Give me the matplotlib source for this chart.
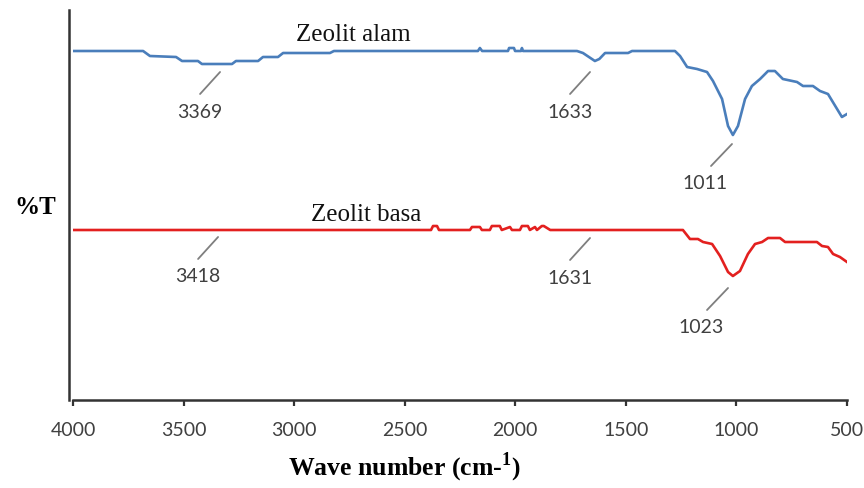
import numpy as np
import matplotlib
matplotlib.use("Agg")
import matplotlib.pyplot as plt

# FTIR spectra (wave number cm-1, relative %T)
wn_alam = [4000, 3683, 3652, 3534, 3507, 3435, 3417, 3281, 3263, 3163, 3141, 3073,
           3050, 2838, 2820, 2169, 2160, 2150, 2033, 2028, 2006, 2001, 1974, 1970,
           1965, 1721, 1694, 1640, 1620, 1594, 1490, 1472, 1278, 1255, 1223, 1178,
           1133, 1106, 1065, 1038, 1016, 993, 961, 930, 893, 857, 826, 790, 726,
           699, 654, 622, 586, 523, 500]
t_alam = [349, 349, 344, 343, 339, 339, 336, 336, 339, 339, 343, 343,
          347, 347, 349, 349, 352, 349, 349, 352, 352, 349, 349, 352,
          349, 349, 347, 339, 341, 347, 347, 349, 349, 344, 333, 331,
          328, 319, 301, 274, 265, 274, 301, 314, 321, 329, 329, 321, 318,
          314, 314, 309, 306, 283, 286]

wn_basa = [4000, 2381, 2372, 2354, 2345, 2205, 2196, 2160, 2151, 2115, 2106, 2070,
           2061, 2024, 2015, 1979, 1970, 1943, 1934, 1911, 1902, 1880, 1871, 1842,
           1242, 1210, 1174, 1151, 1110, 1074, 1038, 1016, 984, 948, 916, 884,
           857, 803, 780, 636, 613, 586, 563, 532, 500]
t_basa = [170, 170, 174, 174, 170, 170, 173, 173, 170, 170, 174, 174,
          170, 173, 170, 170, 174, 174, 170, 173, 170, 174, 174, 170,
          170, 161, 161, 158, 156, 144, 128, 124, 129, 146, 156, 158,
          162, 162, 158, 158, 154, 153, 146, 143, 138]

series_names = ["Zeolit alam", "Zeolit basa"]

# peak labels: (text, wave number at top of leader, %T at top of leader)
peaks_alam = [("3369", 3335, 328), ("1633", 1662, 328), ("1011", 1020, 256)]
peaks_basa = [("3418", 3344, 163), ("1631", 1662, 162), ("1023", 1038, 112)]

xticks = [4000, 3500, 3000, 2500, 2000, 1500, 1000, 500]

plt.rcParams['mathtext.fontset'] = 'custom'
plt.rcParams['mathtext.rm'] = 'Liberation Serif:bold'

fig = plt.figure(figsize=(8.64, 4.89), dpi=100)
ax = fig.add_axes([73 / 864, (489 - 401) / 489, 774 / 864, 390 / 489])

ax.plot(wn_alam, t_alam, color='#4a7ebb', linewidth=1.9, solid_joinstyle='round')
ax.plot(wn_basa, t_basa, color='#e3201f', linewidth=1.9, solid_joinstyle='round')

ax.set_xlim(4000, 500)
ax.set_ylim(0, 390)

tick_font = dict(family='Lato', size=14)
ax.set_xticks(xticks)
ax.set_xticklabels([str(t) for t in xticks], color='#404040', **tick_font)
ax.tick_params(axis='x', direction='out', length=4, width=1.6, color='#333333', pad=11)
ax.set_yticks([])

for side in ['top', 'right']:
    ax.spines[side].set_visible(False)
ax.spines['bottom'].set_linewidth(1.8)
ax.spines['bottom'].set_color('#333333')
ax.spines['left'].set_linewidth(1.8)
ax.spines['left'].set_color('#333333')
ax.spines['left'].set_position(('outward', 3))

def label_peaks(peaks):
    for text, wn, t in peaks:
        dx = -20 if wn > 1200 else -21
        ax.annotate('', xy=(wn, t), xytext=(dx * 0.72, -22 * 0.72),
                    textcoords='offset points',
                    arrowprops=dict(arrowstyle='-', color='#7f7f7f', lw=1.3,
                                    shrinkA=0, shrinkB=0))
        tx = -20 if wn > 1200 else -27
        ax.annotate(text, xy=(wn, t), xytext=(tx * 0.72, -39 * 0.72),
                    textcoords='offset points', ha='center', va='center',
                    color='#404040', **tick_font)

label_peaks(peaks_alam)
label_peaks(peaks_basa)

# series names
ax.text(2734, 366, series_names[0], ha='center', va='center',
        family='Liberation Serif', fontsize=18, color='#111111')
ax.text(2675, 186, series_names[1], ha='center', va='center',
        family='Liberation Serif', fontsize=18, color='#111111')

fig.text(35 / 864, 1 - 208 / 489, '%T', ha='center', va='center',
         family='Liberation Serif', fontweight='bold', fontsize=18)
fig.text(404 / 864, 1 - 467 / 489, 'Wave number (cm-$^{1}$)', ha='center', va='center',
         family='Liberation Serif', fontweight='bold', fontsize=18.5)

fig.savefig('out.png', dpi=100)
